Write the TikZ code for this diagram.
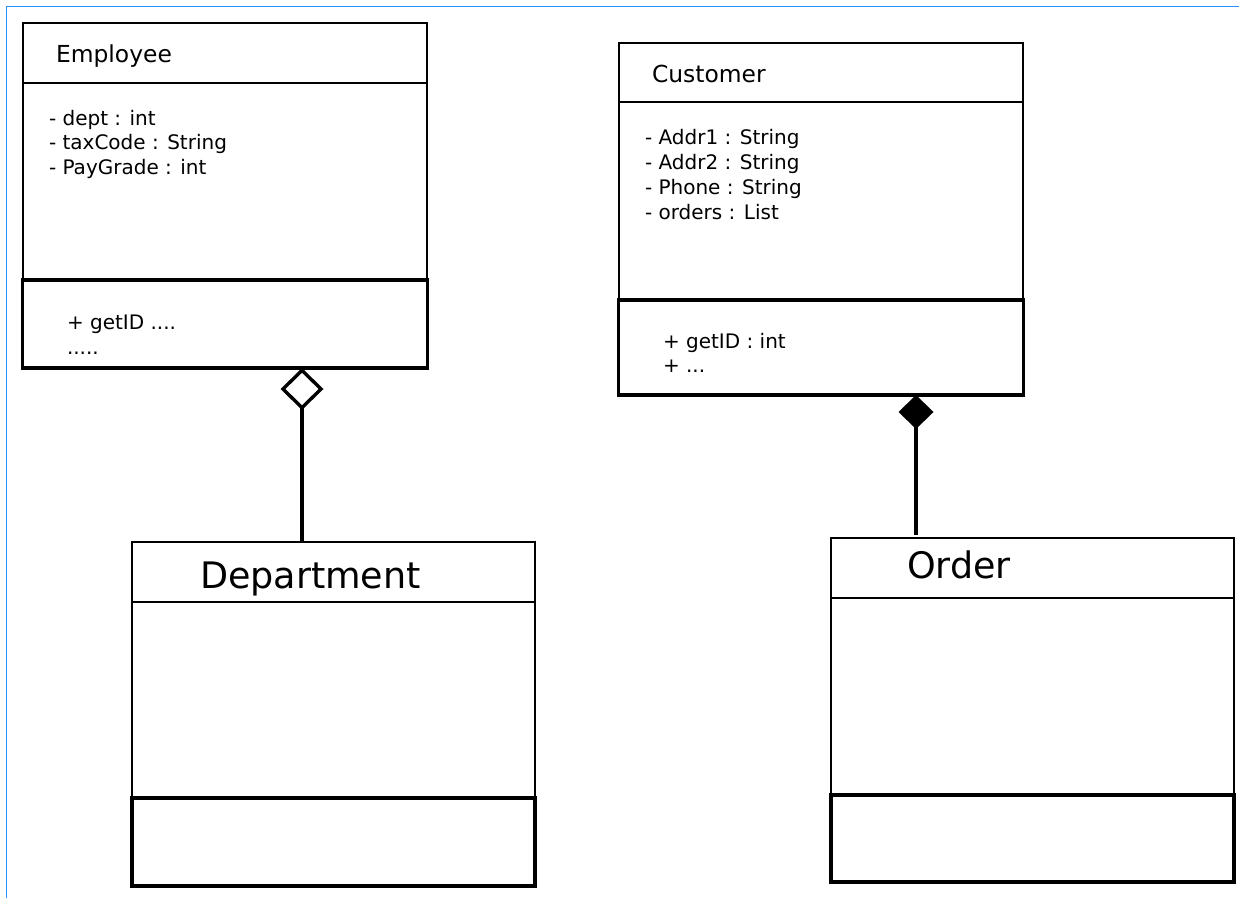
\documentclass[tikz,border=0pt]{standalone}
\usepackage{fontspec}
\setmainfont{DejaVu Sans}
\usetikzlibrary{arrows.meta}

\definecolor{frameblue}{RGB}{40,145,255}
\newcommand\clsTitleFont{\fontsize{23.4}{28}\selectfont}
\newcommand\clsBigFont{\fontsize{36.5}{42}\selectfont}
\newcommand\clsBodyFont{\fontsize{20}{24}\selectfont}

\begin{document}
\begin{tikzpicture}[
    x=1pt, y=-1pt,
    box/.style={draw, line width=2.6pt, rectangle, inner sep=0pt, outer sep=0pt,
                anchor=north west, minimum width=#1},
    opsbox/.style={box=#1, line width=3.8pt},
    txt/.style={anchor=base west, inner sep=0pt, outer sep=0pt, font=\clsBodyFont},
    title/.style={txt, font=\clsTitleFont},
    bigtitle/.style={txt, font=\clsBigFont},
    aggregation/.style={line width=3.4pt, -{Diamond[open, length=42pt, width=43pt]}},
    composition/.style={line width=3.4pt, -{Diamond[length=34pt, width=35pt]}}
  ]
  \useasboundingbox (0,0) rectangle (1239,898);

  % frame edges along the top and left
  \draw[frameblue, line width=1.2pt] (6.5,898) -- (6.5,6.5) -- (1239,6.5);

  % ---------- Employee ----------
  \node[box=404pt, minimum height=60pt]  (emp-head)  at (23,23)  {};
  \node[box=404pt, minimum height=197pt] (emp-attrs) at (23,83)  {};
  \node[opsbox=405pt, minimum height=88pt] (emp-ops) at (22.5,280) {};
  \node[title] (emp-name) at (56,62) {Employee};
  \node[txt] (emp-a1) at (49,125) {- dept : int};
  \node[txt] (emp-a2) at (49,149.5) {- taxCode : String};
  \node[txt] (emp-a3) at (49,174) {- PayGrade : int};
  \node[txt] (emp-o1) at (67,329) {+ getID ....};
  \node[txt] (emp-o2) at (67,354) {.....};

  % ---------- Customer ----------
  \node[box=404pt, minimum height=59pt]  (cus-head)  at (619,43)  {};
  \node[box=404pt, minimum height=198pt] (cus-attrs) at (619,102) {};
  \node[opsbox=405pt, minimum height=95pt] (cus-ops) at (618.5,300) {};
  \node[title] (cus-name) at (652,82) {Customer};
  \node[txt] (cus-a1) at (645,144) {- Addr1 : String};
  \node[txt] (cus-a2) at (645,169) {- Addr2 : String};
  \node[txt] (cus-a3) at (645,194) {- Phone : String};
  \node[txt] (cus-a4) at (645,219) {- orders : List};
  \node[txt] (cus-o1) at (663,348) {+ getID : int};
  \node[txt] (cus-o2) at (663,372) {+ ...};

  % ---------- Department ----------
  \node[box=403pt, minimum height=60pt]  (dep-head)  at (132,542) {};
  \node[box=403pt, minimum height=196pt] (dep-attrs) at (132,602) {};
  \node[opsbox=403pt, minimum height=88pt] (dep-ops) at (132,798) {};
  \node[bigtitle] (dep-name) at (200,588) {Department};

  % ---------- Order ----------
  \node[box=403pt, minimum height=60pt]  (ord-head)  at (831,538) {};
  \node[box=403pt, minimum height=197pt] (ord-attrs) at (831,598) {};
  \node[opsbox=403pt, minimum height=87pt] (ord-ops) at (831,795) {};
  \node[bigtitle] (ord-name) at (907,578) {Order};

  % ---------- relations ----------
  \coordinate (aggX) at (302,0);
  \coordinate (compX) at (916,0);
  \draw[aggregation] (dep-head.north -| aggX) -- (emp-ops.south -| aggX);
  \draw[composition, shorten <=3pt] (ord-head.north -| compX) -- (cus-ops.south -| compX);
\end{tikzpicture}
\end{document}
